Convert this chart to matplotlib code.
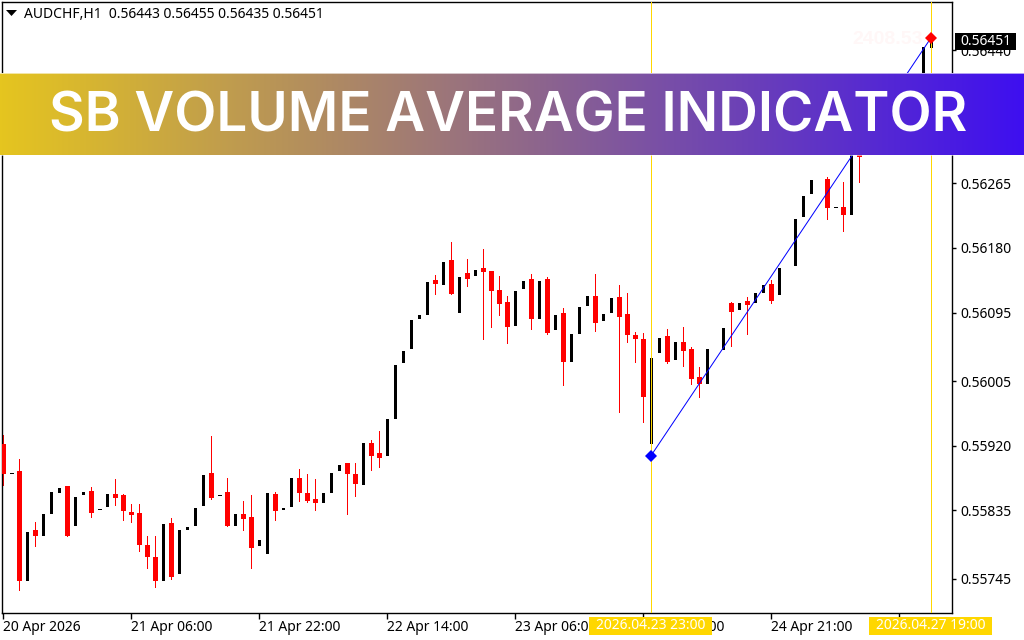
import numpy as np
import matplotlib
matplotlib.use("Agg")
import matplotlib.pyplot as plt
from matplotlib.patches import Rectangle

nan = float("nan")
opens = [55922,55884,55887,55743,55809,55802,55830,55858,55867,55815,
55855,55861,55837,55840,55857,55855,55833,55832,55790,55774,
55743,55819,55751,55809,55815,55841,55884,55855,55859,55815,
55830,55827,55789,55778,55857,55836,55839,55878,55858,55850,
55845,55858,55887,55897,55883,55869,55924,55911,55907,55955,
56029,56047,56087,56092,56138,56131,56164,56094,56147,56143,
56154,56150,56125,56109,56077,56126,56139,56087,56139,56072,
56094,56030,56067,56104,56117,56084,56094,56115,56093,56066,
56060,55922,56042,56064,56033,56056,56047,56010,56001,nan,
56046,56108,56098,56110,56108,56121,56133,56118,nan,56156,
56221,56251,nan,56271,56234,56234,56223,56315,nan,nan,
nan,nan,nan,nan,nan,56400,56443]
highs = [55934,55884,55903,55807,55820,55830,55859,55865,55867,55853,
55859,55866,55837,55857,55876,55857,55844,55844,55802,55802,
55817,55825,55809,55813,55838,55882,55933,55855,55878,55830,
55848,55855,55796,55858,55859,55838,55878,55890,55883,55876,
55858,55884,55895,55897,55897,55924,55928,55939,55955,56026,
56045,56085,56092,56135,56144,56161,56188,56142,56165,56151,
56179,56150,56143,56117,56123,56137,56146,56137,56142,56092,
56101,56067,56102,56117,56146,56093,56114,56131,56121,56070,
56068,56035,56062,56073,56056,56076,56050,56024,56047,nan,
56075,56109,56108,56115,56121,56131,56138,56154,nan,56218,
56248,56269,nan,56273,56234,56267,56320,56330,nan,nan,
nan,nan,nan,nan,nan,56444,56455]
lows = [55868,55884,55730,55743,55789,55802,55830,55858,55801,55815,
55855,55827,55837,55840,55842,55823,55820,55782,55759,55734,
55743,55745,55751,55809,55815,55841,55850,55855,55814,55815,
55809,55759,55789,55778,55822,55836,55839,55847,55846,55836,
55845,55858,55887,55830,55854,55869,55888,55892,55907,55955,
56029,56047,56087,56092,56119,56131,56119,56094,56130,56143,
56060,56076,56092,56055,56077,56126,56073,56087,56067,56072,
56000,56030,56067,56104,56071,56084,56094,55964,56056,56030,
55951,55922,56042,56029,56033,56025,56001,55984,56001,nan,
56046,56051,56098,56067,56108,56121,56108,56118,nan,56156,
56221,56251,nan,56218,56234,56202,56223,56267,nan,nan,
nan,nan,nan,nan,nan,56400,56435]
closes = [55883,55884,55742,55807,55801,55830,55859,55865,55801,55853,
55859,55832,55837,55857,55852,55834,55829,55790,55774,55743,
55817,55748,55809,55813,55838,55882,55851,55855,55814,55830,
55824,55786,55796,55858,55834,55838,55878,55858,55848,55845,
55858,55884,55895,55883,55870,55924,55907,55904,55955,56026,
56045,56085,56092,56135,56132,56161,56119,56142,56139,56151,
56148,56123,56106,56076,56123,56137,56087,56137,56068,56092,
56030,56067,56102,56117,56081,56093,56114,56089,56066,56060,
55984,56035,56062,56030,56056,56045,56008,56001,56047,nan,
56075,56096,56108,56105,56121,56131,56110,56154,nan,56218,
56248,56269,nan,56232,56234,56223,56320,56299,nan,nan,
nan,nan,nan,nan,nan,56444,56451]
assert len(opens) == len(highs) == len(lows) == len(closes) == 117

price_ticks = [55745,55835,55920,56005,56095,56180,56265,56350,56440]
time_ticks = [0,16,32,48,64,80,96,112]
time_labels = ["20 Apr 2026","21 Apr 06:00","21 Apr 22:00","22 Apr 14:00",
               "23 Apr 06:00","23 Apr 22:00","24 Apr 21:00","27 Apr 13:00"]
trend_x = [81,116]
trend_y = [55907,56456]
header = "AUDCHF,H1  0.56443 0.56455 0.56435 0.56451"
title = "SB VOLUME AVERAGE INDICATOR"
volume_label = "2408.53"
last_price_label = "0.56451"
start_label = "2026.04.23 23:00"
end_label = "2026.04.27 19:00"

W,H = 1024,640
FONT = "Noto Sans"
plt.rcParams["font.family"] = [FONT,"DejaVu Sans"]
fig = plt.figure(figsize=(W/100,H/100),dpi=100,facecolor="white")
def rect(l,t,r,b):
    return [l/W,1-b/H,(r-l)/W,(b-t)/H]
def fx(x): return x/W
def fy(y): return 1-y/H

L,R,T,B = 2.4,952.4,2.4,613.4
ax = fig.add_axes(rect(L,T,R,B))
ax.set_xlim((L-3.0)/8,(R-3.0)/8)
# 1.3138 points of price per pixel, 55745 at pixel row 579
ax.set_ylim(55745+(579.0-B)*1.3138,55745+(579.0-T)*1.3138)
for s in ax.spines.values():
    s.set_linewidth(1.0); s.set_color("black")

o,h,l,c = map(np.array,(opens,highs,lows,closes))
x = np.arange(len(o))
px = 0.72
down = c < o
up = c > o
doji = c == o
bar_x = x + 0.5/8   # half a pixel, so the body edges fall on whole pixels
ax.vlines(x[down],l[down],h[down],color="#ff0000",lw=1*px,zorder=2,antialiased=False)
ax.bar(bar_x[down],(o-c)[down],bottom=c[down],width=5/8,color="#ff0000",lw=0,zorder=3,antialiased=False)
ax.bar(bar_x[up],(c-o)[up],bottom=o[up],width=3/8,color="black",lw=0,zorder=3,antialiased=False)
ax.hlines(c[doji],bar_x[doji]-1.5/8,bar_x[doji]+1.5/8,color="black",lw=1*px,zorder=3,antialiased=False)

for t in trend_x:
    ax.axvline(t,color="#ffd700",lw=1*px,zorder=4,antialiased=False)
ax.plot(trend_x,trend_y,color="#0000ff",lw=1*px,zorder=5)
ax.plot(trend_x[0],trend_y[0],marker="D",ms=6.2,color="#0000ff",mew=0,zorder=6,ls="none")
ax.plot(trend_x[1],trend_y[1],marker="D",ms=6.2,color="#ff0000",mew=0,zorder=6,ls="none")

ax.yaxis.tick_right()
ax.set_yticks(price_ticks)
ax.set_yticklabels([f"{v/1e5:.5f}" for v in price_ticks])
ax.set_xticks(time_ticks)
ax.set_xticklabels(time_labels,ha="left")
ax.tick_params(axis="y",length=3,width=1,pad=3,labelsize=10,colors="black")
ax.tick_params(axis="x",length=4,width=1,pad=1,labelsize=10,colors="black")

fig.text(fx(24),fy(14),header,fontsize=10,va="center",ha="left",color="black",zorder=8)
fig.add_artist(plt.Polygon([[fx(6),fy(10)],[fx(17),fy(10)],[fx(11.5),fy(16)]],closed=True,color="black",lw=0,zorder=8))
fig.text(fx(923),fy(40),volume_label,fontsize=14,fontweight="bold",family="Liberation Sans",
         va="center",ha="right",color="#fff7f7",zorder=1)

# price flag and time flags
fig.add_artist(Rectangle((fx(955),fy(50)),61/W,17/H,color="black",lw=0,zorder=9))
fig.text(fx(985.5),fy(41.5),last_price_label,fontsize=10,color="white",ha="center",va="center",zorder=10)
for l_,r_,s in ((589,712,start_label),(869,992,end_label)):
    fig.add_artist(Rectangle((fx(l_),fy(635)),(r_-l_)/W,18/H,color="#ffd700",lw=0,zorder=9))
    fig.text(fx((l_+r_)/2),fy(625.5),s,fontsize=10,color="white",ha="center",va="center",zorder=10)

# banner
bax = fig.add_axes(rect(0,72.5,1024,155.5),zorder=20)
bax.set_axis_off()
t = np.linspace(0,1,512)[None,:,None]
c0 = np.array([229,197,31])/255; c1 = np.array([62,15,240])/255
bax.imshow(c0+(c1-c0)*t,aspect="auto",extent=(0,1024,155.5,72.5))
bax.set_xlim(0,1024); bax.set_ylim(155.5,72.5)
bax.axhline(73,color="white",alpha=0.6,lw=0.72)
bax.axhline(155,color="white",alpha=0.6,lw=0.72)
tt = bax.text(508.5,111,title,color="white",ha="center",va="center_baseline",
              fontsize=37,family="Inter",fontweight=600)
r = fig.canvas.get_renderer()
tt.set_fontsize(37*919/tt.get_window_extent(r).width)
fig.savefig("out.png",dpi=100)
